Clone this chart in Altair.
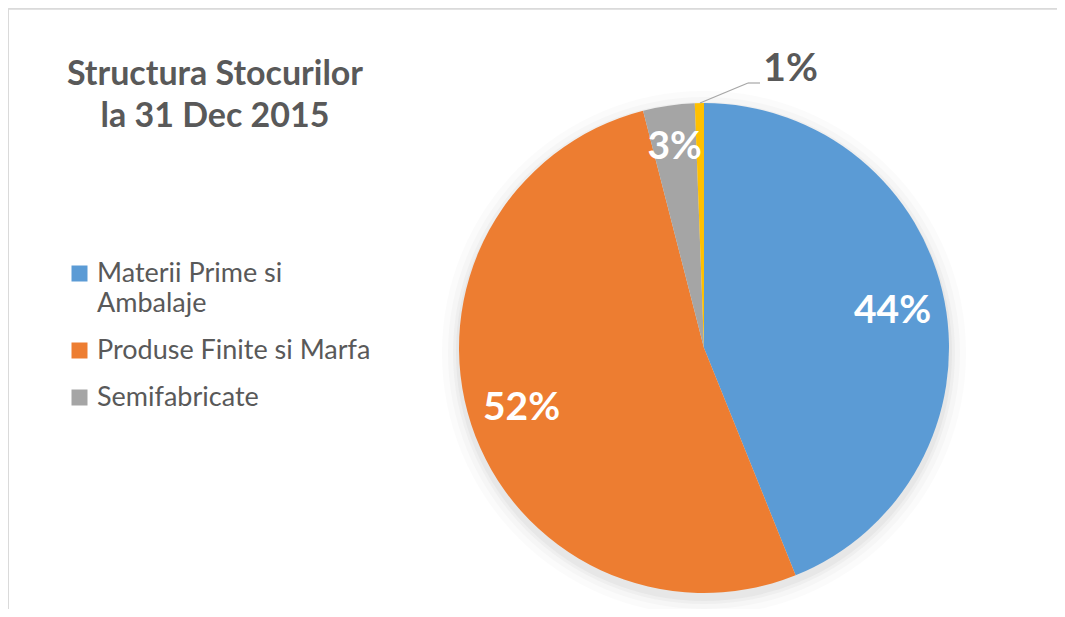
import altair as alt
import pandas as pd

categories = ["Materii Prime si Ambalaje", "Produse Finite si Marfa", "Semifabricate", "Alte Stocuri"]
values = [43.9, 52.1, 3.4, 0.6]
labels = ["44%", "52%", "3%", "1%"]
colors = ["#5B9BD5", "#ED7D31", "#A5A5A5", "#FFC000"]
order_idx = [0, 1, 2, 3]

df = pd.DataFrame({"cat": categories, "value": values, "label": labels, "idx": order_idx})

FONT = "Lato"
CX, CY, R = 696, 340, 245

base = alt.Chart(df).encode(
    theta=alt.Theta("value:Q", stack=True),
    order=alt.Order("idx:Q", sort="ascending"),
    x=alt.value(CX),
    y=alt.value(CY),
)

# soft shadow
shadow_layers = []
for rr, op in [(262, 0.03), (256, 0.04), (251, 0.05), (248, 0.06)]:
    shadow_layers.append(
        alt.Chart(df).mark_arc(radius=rr, theta=0, theta2=6.2832, color="#7f7f7f", opacity=op)
        .encode(x=alt.value(CX), y=alt.value(CY + 5))
        .transform_filter("datum.idx == 0")
    )

pie = base.mark_arc(radius=R).encode(
    color=alt.Color(
        "cat:N",
        scale=alt.Scale(domain=categories, range=colors),
        sort=categories,
        legend=alt.Legend(
            values=categories[:3],
            title=None,
            orient="none",
            legendX=58,
            legendY=252,
            symbolType="square",
            symbolSize=256,
            symbolStrokeWidth=0,
            labelFont=FONT,
            labelFontSize=27,
            labelColor="#595959",
            labelOffset=4,
            labelLimit=400,
            rowPadding=19,
            labelExpr="datum.label == 'Materii Prime si Ambalaje' ? ['Materii Prime si', 'Ambalaje'] : datum.label",
        ),
    )
)

lab_big = base.mark_text(radius=192, font=FONT, fontSize=39, fontWeight="bold", color="white").encode(
    text=alt.condition("datum.idx < 2", "label:N", alt.value(""))
)
lab_small = base.mark_text(radius=203, font=FONT, fontSize=39, fontWeight="bold", color="white").encode(
    text=alt.condition("datum.idx == 2", "label:N", alt.value(""))
)
lab_out = base.mark_text(radius=292, thetaOffset=0.32, font=FONT, fontSize=39, fontWeight="bold", color="#595959").encode(
    text=alt.condition("datum.idx == 3", "label:N", alt.value(""))
)

leader1 = alt.Chart(df).mark_rule(color="#a6a6a6", strokeWidth=1.2).encode(
    x=alt.value(692), y=alt.value(95), x2=alt.value(740), y2=alt.value(75)
).transform_filter("datum.idx == 3")
leader2 = alt.Chart(df).mark_rule(color="#a6a6a6", strokeWidth=1.2).encode(
    x=alt.value(740), y=alt.value(75), x2=alt.value(752), y2=alt.value(75)
).transform_filter("datum.idx == 3")

border_top = alt.Chart(df).mark_rule(color="#d9d9d9", strokeWidth=1.5).encode(
    x=alt.value(0), x2=alt.value(1049), y=alt.value(1)
).transform_filter("datum.idx == 0")
border_left = alt.Chart(df).mark_rule(color="#d9d9d9", strokeWidth=1.5).encode(
    x=alt.value(0), y=alt.value(1), y2=alt.value(601)
).transform_filter("datum.idx == 0")

title = alt.Chart(df).mark_text(
    font=FONT, fontSize=34, fontWeight="bold", color="#595959", align="center",
    baseline="middle", lineHeight=42
).encode(
    x=alt.value(207), y=alt.value(67), text=alt.value(["Structura Stocurilor", "la 31 Dec 2015"])
).transform_filter("datum.idx == 0")

chart = alt.layer(
    *shadow_layers, pie, lab_big, lab_small, lab_out, leader1, leader2, border_top, border_left, title
).properties(
    width=1049, height=601, padding=0, autosize=alt.AutoSizeParams(type="none")
).configure_view(
    fill="#f6f6f6", strokeWidth=0
).configure(
    background="white",
    style={"guide-label": {"lineHeight": 30}},
)

chart.save("out.html", embed_options={"renderer": "svg", "actions": False})
